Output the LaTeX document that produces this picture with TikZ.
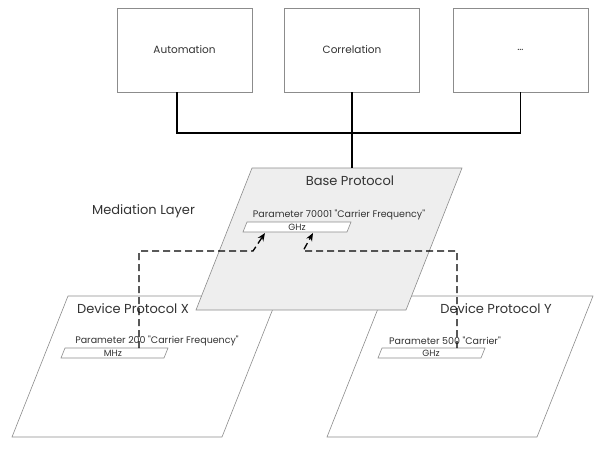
\documentclass[tikz,border=0pt]{standalone}
\usepackage{fontspec}
\setmainfont{Poppins}[Ligatures=TeXOff]
\usetikzlibrary{arrows.meta}
\definecolor{boxgray}{HTML}{8C8C8C}
\definecolor{planefill}{HTML}{EEEEEE}
\definecolor{textgray}{HTML}{333333}
\begin{document}
\begin{tikzpicture}[x=1pt,y=-1pt,
  topbox/.style={draw=boxgray, line width=0.7pt, minimum width=135pt, minimum height=84pt, inner sep=0pt, text=textgray, font=\fontsize{10.5}{12}\selectfont},
  plane/.style={draw=boxgray, line width=0.6pt, fill=white},
  baseplane/.style={draw=boxgray, line width=0.6pt, fill=planefill},
  unitbox/.style={draw=boxgray, line width=0.6pt, fill=white},
  bus/.style={line width=1.1pt, black},
  map/.style={line width=1.3pt, dash pattern=on 7pt off 4pt, -{Stealth[length=8pt,width=6.5pt]}},
  title/.style={font=\fontsize{13}{15}\selectfont, text=textgray, inner sep=0pt},
  param/.style={font=\fontsize{9.5}{11}\selectfont, text=textgray, inner sep=0pt},
  unit/.style={font=\fontsize{9}{10}\selectfont, text=textgray, inner sep=0pt},
]
\useasboundingbox (0,0) rectangle (607,453);

% top boxes
\node[topbox] (auto) at (184.5,50) {Automation};
\node[topbox] (corr) at (352,50) {Correlation};
\node[topbox] (dots) at (520.5,50) {…};

% device planes
\draw[plane] (68,296) -- (278,296) -- (222,437) -- (12,437) -- cycle;
\draw[plane] (383,296) -- (593,296) -- (537,437) -- (327,437) -- cycle;
% base plane
\draw[baseplane] (252,168) -- (462,168) -- (406,310) -- (196,310) -- cycle;
\coordinate (basetop) at (352,168);

% bus
\coordinate (busL) at (177,133);
\draw[bus] ([xshift=-7.5pt]auto.south) -- (busL) -- (dots.south |- busL) -- (dots.south);
\draw[bus] (corr.south) -- (basetop);

% base texts
\node[title] (basetitle) at (350,181) {Base Protocol};
\node[title, anchor=west] (mediation) at (92,211) {Mediation Layer};
\node[param] (baseparam) at (339,215) {Parameter 70001 "Carrier Frequency"};
\draw[unitbox] (247,222) -- (351,222) -- (347,232) -- (243,232) -- cycle;
\node[unit] (baseunit) at (297,227) {GHz};

% device X texts
\node[title] (xtitle) at (133,309) {Device Protocol X};
\node[param] (xparam) at (157,341) {Parameter 200 "Carrier Frequency"};
\draw[unitbox] (65,348) -- (168,348) -- (164,358) -- (61,358) -- cycle;
\node[unit] (xunit) at (113,353) {MHz};

% device Y texts
\node[title] (ytitle) at (496,309) {Device Protocol Y};
\node[param] (yparam) at (445,341) {Parameter 500 "Carrier"};
\draw[unitbox] (382,348) -- (485,348) -- (481,358) -- (378,358) -- cycle;
\node[unit] (yunit) at (431,353) {GHz};

% mappings
\coordinate (xsrc) at (139,348);
\coordinate (xbend) at (253,251);
\coordinate (xtip) at (265,233);
\draw[map] (xsrc) |- (xbend) -- (xtip);
\coordinate (ysrc) at (457,348);
\coordinate (ybend) at (303,251);
\coordinate (ytip) at (313,233);
\draw[map] (ysrc) |- (ybend) -- (ytip);
\end{tikzpicture}
\end{document}
